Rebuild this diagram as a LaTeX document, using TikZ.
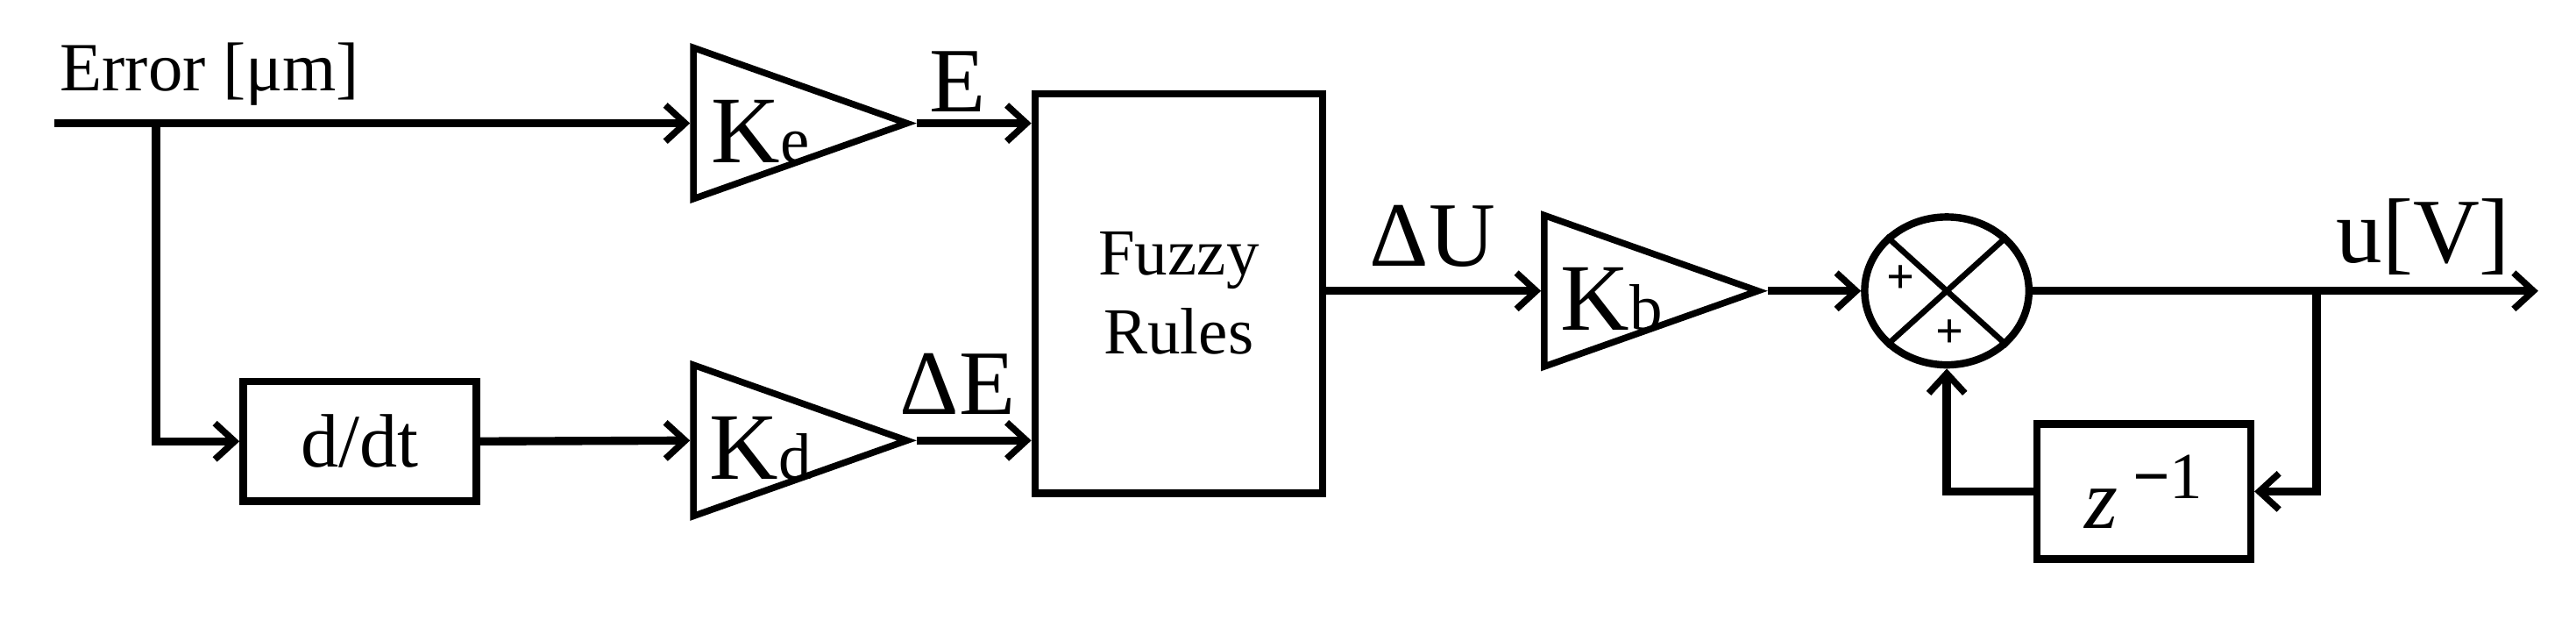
\documentclass[tikz,border=0pt]{standalone}
\usepackage{fontspec}
\setmainfont{Liberation Serif}
\usetikzlibrary{arrows.meta,shapes.geometric}
\begin{document}
\begin{tikzpicture}[x=1pt,y=-1pt,
  ln/.style={line width=5pt},
  arr/.style={ln,-{Straight Barb[length=12pt,width=22pt,line width=4pt]}},
  blk/.style={draw,line width=4.5pt,rectangle,inner sep=0pt},
  tri/.style={draw,line width=4pt,isosceles triangle,isosceles triangle apex angle=38,isosceles triangle stretches,minimum height=130pt,minimum width=92pt,inner sep=0pt,anchor=west},
  lbl/.style={font=\fontsize{56}{60}\selectfont}]
\useasboundingbox (0,0) rectangle (1568,377);
\coordinate (in) at (33,75);
\coordinate (br) at (95,75);
\node[tri] (ke) at (420,75) {};
\node[font=\fontsize{58}{60}\selectfont] at (463,80) {K\raisebox{0pt}{\fontsize{40}{40}\selectfont e}};
\node[tri] (kd) at (420,268) {};
\node[font=\fontsize{58}{60}\selectfont] at (463,273) {K\raisebox{0pt}{\fontsize{40}{40}\selectfont d}};
\node[blk,minimum width=142pt,minimum height=73pt,font=\fontsize{46}{50}\selectfont] (dd) at (219,268.5) {d/dt};
\node[blk,minimum width=175pt,minimum height=243pt,align=center,font=\fontsize{40}{48}\selectfont] (fz) at (717.5,178.5) {Fuzzy\\Rules};
\node[tri] (kb) at (938,177) {};
\node[font=\fontsize{58}{60}\selectfont] at (981,182) {K\raisebox{0pt}{\fontsize{40}{40}\selectfont b}};
\node[draw,line width=4.5pt,ellipse,minimum width=100pt,minimum height=90pt,inner sep=0pt] (sum) at (1185,177) {};
\draw[line width=3.5pt] (sum.north east) -- (sum.south west) (sum.north west) -- (sum.south east);
\node[font=\bfseries\fontsize{30}{30}\selectfont] at (1157,170) {+};
\node[font=\bfseries\fontsize{30}{30}\selectfont] at (1187,203) {+};
\node[blk,minimum width=130pt,minimum height=82pt,font=\fontsize{52}{56}\selectfont] (zd) at (1305,299) {\itshape z\,\raisebox{18pt}{\upshape\fontsize{40}{40}\selectfont\textbf{−}1}};
\coordinate (out) at (1545,177);
\coordinate (tap) at (1410,177);
\draw[arr] (in) -- (ke.west);
\draw[arr] (br) |- (dd.west);
\draw[arr] (dd.east) -- (kd.west);
\draw[arr] (ke.apex) -- (fz.west |- ke.apex);
\draw[arr] (kd.apex) -- (fz.west |- kd.apex);
\draw[arr] (fz.east |- kb.west) -- (kb.west);
\draw[arr] (kb.apex) -- (sum.west);
\draw[arr] (sum.east) -- (out);
\draw[arr] (tap) |- (zd.east);
\draw[arr] (zd.west) -| (sum.south);
\node[font=\fontsize{42}{44}\selectfont,anchor=base west] at (33,55) {Error [μm]};
\node[lbl,anchor=base] at (583,68) {E};
\node[lbl,anchor=base] at (583,252) {ΔE};
\node[lbl,anchor=base] at (872,162) {ΔU};
\node[lbl,anchor=base] at (1475,160) {u[V]};
\end{tikzpicture}
\end{document}
